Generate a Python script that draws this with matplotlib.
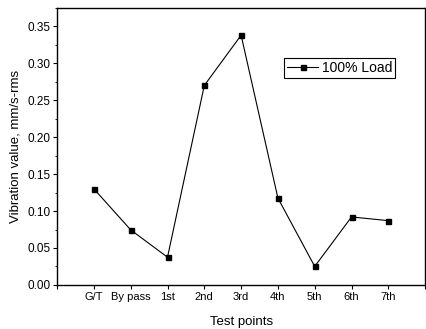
import matplotlib
matplotlib.use("Agg")
import matplotlib.pyplot as plt
from matplotlib.ticker import MultipleLocator

plt.rcParams['font.family'] = ['Liberation Sans', 'DejaVu Sans']

categories = ["G/T", "By pass", "1st", "2nd", "3rd", "4th", "5th", "6th", "7th"]
load_100 = [0.130, 0.0745, 0.0375, 0.270, 0.338, 0.1175, 0.025, 0.092, 0.087]

fig = plt.figure(figsize=(4.26, 3.29), dpi=100)
ax = fig.add_axes([0.134, 0.134, 0.864, 0.842])

x = list(range(1, len(categories) + 1))
ax.plot(x, load_100, '-', color='black', lw=0.8, marker='s', markersize=3.6,
        label='100% Load')

ax.set_xlim(0, len(categories) + 1)
ax.set_ylim(0, 0.375)
ax.set_xticks(list(range(0, len(categories) + 2)))
ax.set_xticklabels([""] + categories + [""], fontsize=8)
ax.yaxis.set_major_locator(MultipleLocator(0.05))
ax.yaxis.set_minor_locator(MultipleLocator(0.025))
ax.set_yticklabels([f"{v:.2f}" for v in ax.get_yticks()], fontsize=8.5)
ax.tick_params(axis='both', which='major', direction='out', length=3, width=0.8, pad=2)
ax.tick_params(axis='y', which='minor', direction='out', length=1.8, width=0.6)
for s in ax.spines.values():
    s.set_linewidth(1.0)

ax.set_xlabel("Test points", fontsize=9.5, labelpad=10)
ax.set_ylabel("Vibration value, mm/s-rms", fontsize=9.5, labelpad=4)

leg = ax.legend(loc='upper left', bbox_to_anchor=(0.617, 0.82), fontsize=10,
                frameon=True, fancybox=False, edgecolor='black', framealpha=1,
                handlelength=2.2, handletextpad=0.3, borderpad=0.22, borderaxespad=0)
leg.get_frame().set_linewidth(0.8)

fig.savefig("out.png", dpi=100)
